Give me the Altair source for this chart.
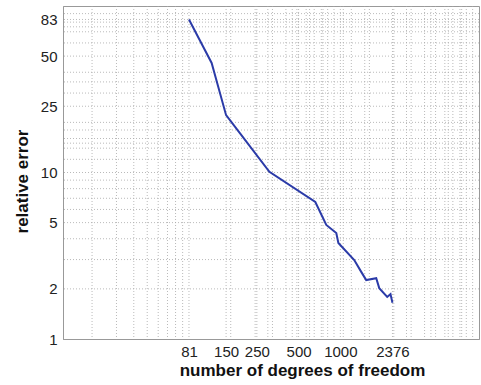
import altair as alt
import pandas as pd

# data
dof = [81, 118, 150, 188, 308, 660, 792, 935, 968, 1260, 1415, 1537, 1815, 1908, 2178, 2300, 2376]
rel_err = [83, 45.5, 22.1, 17.3, 10.1, 6.65, 4.84, 4.33, 3.77, 2.98, 2.53, 2.26, 2.32, 2.02, 1.79, 1.86, 1.65]

x_ticks = [81, 150, 250, 500, 1000, 2376]
y_ticks = [1, 2, 5, 10, 25, 50, 83]

x_grid = [16.2, 24.3, 32.4, 40.5, 48.6, 56.7, 64.8, 72.9, 81,
          150, 162, 243, 250, 300, 324, 405, 450, 486, 500, 567, 600, 648, 729, 750, 810, 900, 1000,
          1050, 1200, 1500, 1620, 2376, 2430, 3000, 3240, 4050, 4500, 4860, 5670, 6000, 6480, 7290,
          7500, 8100, 9000]
y_grid = [2, 3, 4, 5, 6, 7, 8, 9, 10, 12, 14, 15, 16, 18, 20, 25, 30, 35, 40, 50, 60, 70, 75, 80, 83, 90]

df = pd.DataFrame({"dof": dof, "err": rel_err})
gx = pd.DataFrame({"dof": x_grid})
gy = pd.DataFrame({"err": y_grid})

xscale = alt.Scale(type="log", domain=[10, 10000], nice=False)
yscale = alt.Scale(type="log", domain=[1, 100], nice=False)

x_axis = alt.Axis(values=x_ticks, format="d", grid=False, tickSize=0,
                  labelPadding=5, labelFontSize=15, labelColor="#222",
                  title="number of degrees of freedom", titleFontSize=17,
                  titleFontWeight="bold", titleColor="#111",
                  titleX=239, titleY=36, titleBaseline="alphabetic",
                  domainColor="#999", labelFlush=False, labelOverlap=False)
y_axis = alt.Axis(values=y_ticks, format="d", grid=False, tickSize=0,
                  labelPadding=6, labelFontSize=15, labelColor="#222",
                  title="relative error", titleFontSize=17,
                  titleFontWeight="bold", titleColor="#111",
                  titleX=-36, titleY=175, titleBaseline="alphabetic",
                  domainColor="#999", labelFlush=False, labelOverlap=False)

grid_style = dict(color="#a8a8a8", strokeWidth=0.8, strokeDash=[1, 2])

xg = alt.Chart(gx).mark_rule(**grid_style).encode(
    x=alt.X("dof:Q", scale=xscale, axis=x_axis)
)
yg = alt.Chart(gy).mark_rule(**grid_style).encode(
    y=alt.Y("err:Q", scale=yscale, axis=y_axis)
)

line = alt.Chart(df).mark_line(color="#2B3BA8", strokeWidth=2).encode(
    x=alt.X("dof:Q", scale=xscale, axis=x_axis),
    y=alt.Y("err:Q", scale=yscale, axis=y_axis),
)

chart = alt.layer(xg, yg, line).properties(
    width=416, height=333,
    autosize=alt.AutoSizeParams(type="none"),
    padding={"left": 63, "top": 6, "right": 2, "bottom": 46},
    background="white",
).configure(font="Liberation Sans").configure_view(stroke="#999", strokeWidth=1)

chart.save("out.html", embed_options={"renderer": "svg", "actions": False})
